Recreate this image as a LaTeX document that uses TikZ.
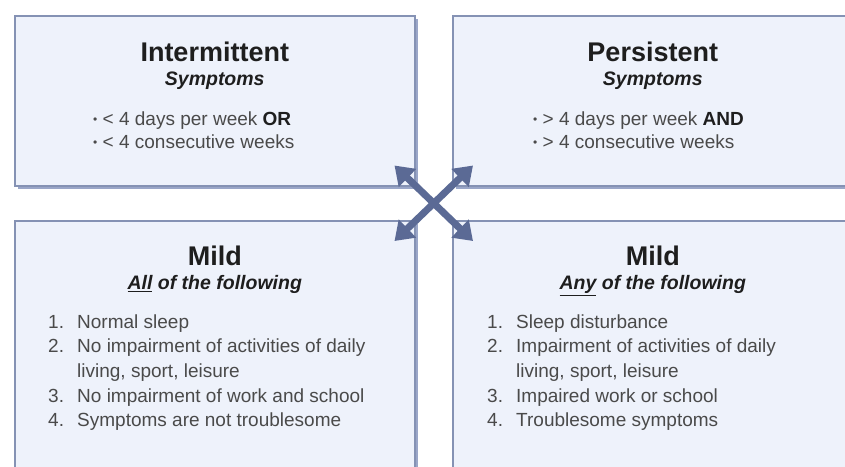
\documentclass[tikz,border=0pt]{standalone}
\usepackage{fontspec}
\setmainfont{Liberation Sans}
\usetikzlibrary{positioning,calc,shadows,arrows.meta}

\definecolor{boxfill}{HTML}{EEF2FB}
\definecolor{boxline}{HTML}{8592B4}
\definecolor{boxshade}{HTML}{9AA6C8}
\definecolor{arrowc}{HTML}{5B6A95}
\definecolor{titlec}{HTML}{1E1E1E}
\definecolor{bodyc}{HTML}{4A4A4A}

\newcommand\dotb{{\fontsize{12}{12}\selectfont\raisebox{1.5pt}{•}}}
\newcommand\itm[1]{\makebox[29pt][l]{#1}}

\begin{document}
\begin{tikzpicture}[x=1pt, y=-1pt, > = {Triangle[length=18pt,width=24pt]}]
    \tikzset{
      box/.style={draw=boxline, line width=1.5pt, fill=boxfill, anchor=north west,
        minimum width=400pt, minimum height=170pt, inner sep=0pt,
        drop shadow={shadow xshift=3pt, shadow yshift=-3pt, fill=boxshade, opacity=1}},
      ttl/.style={font=\fontsize{27}{30}\selectfont\bfseries, text=titlec, anchor=base, inner sep=0pt},
      sub/.style={font=\fontsize{19.5}{22}\selectfont\bfseries\itshape, text=titlec, inner sep=0pt},
      bul/.style={font=\fontsize{19}{23}\selectfont, text=bodyc, anchor=base west, inner sep=0pt},
      lst/.style={font=\fontsize{19}{24.7}\selectfont, text=bodyc, anchor=base west, inner sep=0pt},
      arr/.style={<->, draw=arrowc, line width=7pt},
    }
    \path[use as bounding box, clip] (0,0) rectangle (845,466);

    \node [box] (inter) at (14,15) {};
    \node [box] (pers) at (452,15) {};
    \node [box, minimum height=260pt] (mildall) at (14,220) {};
    \node [box, minimum height=260pt] (mildany) at (452,220) {};

    \node [ttl] (interT) at ($(inter.north)+(0,46)$) {Intermittent};
    \node [sub, below=10pt of interT] (interS) {Symptoms};
    \node [bul] (interL) at ($(inter.north west)+(79,110)$)
      {\begin{tabular}[t]{@{}l@{}}\dotb{} < 4 days per week \textbf{\color{titlec}OR}\\
       \dotb{} < 4 consecutive weeks\end{tabular}};

    \node [ttl] (persT) at ($(pers.north)+(0,46)$) {Persistent};
    \node [sub, below=10pt of persT] (persS) {Symptoms};
    \node [bul] (persL) at ($(pers.north west)+(81,110)$)
      {\begin{tabular}[t]{@{}l@{}}\dotb{} > 4 days per week \textbf{\color{titlec}AND}\\
       \dotb{} > 4 consecutive weeks\end{tabular}};

    \node [ttl] (allT) at ($(mildall.north)+(0,45)$) {Mild};
    \node [sub, below=10pt of allT] (allS) {\underline{All} of the following};
    \node [lst] (allL) at ($(mildall.north west)+(34,108)$)
      {\begin{tabular}[t]{@{}l@{}}\itm{1.}Normal sleep\\
       \itm{2.}No impairment of activities of daily\\
       \itm{}living, sport, leisure\\
       \itm{3.}No impairment of work and school\\
       \itm{4.}Symptoms are not troublesome\end{tabular}};

    \node [ttl] (anyT) at ($(mildany.north)+(0,45)$) {Mild};
    \node [sub, below=10pt of anyT] (anyS) {\underline{Any} of the following};
    \node [lst] (anyL) at ($(mildany.north west)+(35,108)$)
      {\begin{tabular}[t]{@{}l@{}}\itm{1.}Sleep disturbance\\
       \itm{2.}Impairment of activities of daily\\
       \itm{}living, sport, leisure\\
       \itm{3.}Impaired work or school\\
       \itm{4.}Troublesome symptoms\end{tabular}};

    \coordinate (tlTip) at ($(inter.south east)+(-21,-21)$);
    \coordinate (trTip) at ($(pers.south west)+(21,-21)$);
    \coordinate (blTip) at ($(mildall.north east)+(-21,21)$);
    \coordinate (brTip) at ($(mildany.north west)+(21,21)$);
    \draw[arr] (tlTip) -- (brTip);
    \draw[arr] (trTip) -- (blTip);

  \end{tikzpicture}
\end{document}
